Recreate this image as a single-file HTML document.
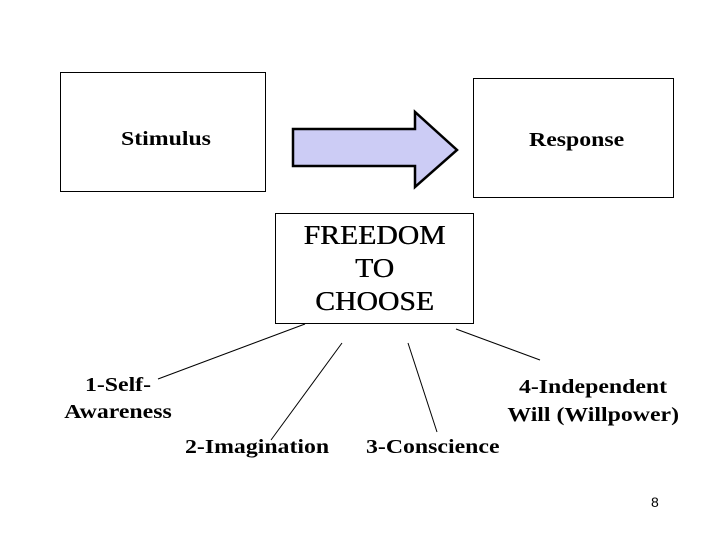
<!DOCTYPE html>
<html><head><style>
body{margin:0;width:720px;height:540px;background:#fff;position:relative;overflow:hidden;font-family:"Liberation Serif",serif;}
.b{position:absolute;border:1px solid #000;background:#fff;box-sizing:border-box;}
.t{position:absolute;font-weight:bold;font-size:20px;white-space:nowrap;transform:scaleX(1.19);transform-origin:left center;}
</style></head><body>
<div class="b" style="left:60px;top:72px;width:206px;height:120px"></div>
<div class="b" style="left:473px;top:78px;width:201px;height:120px"></div>
<div class="b" style="left:275px;top:213px;width:199px;height:111px"></div>
<svg style="position:absolute;left:0;top:0" width="720" height="540">
<polygon points="293,129 415,129 415,112 457,150 415,187 415,166 293,166" fill="#ccccf5" stroke="#000" stroke-width="2.5" stroke-linejoin="miter"/>
<g stroke="#000" stroke-width="1">
<line x1="305" y1="324" x2="158" y2="379"/>
<line x1="342" y1="343" x2="271" y2="440"/>
<line x1="408" y1="343" x2="437" y2="432"/>
<line x1="456" y1="329" x2="540" y2="360"/>
</g>
</svg>
<div class="t" style="left:121px;top:128px">Stimulus</div>
<div class="t" style="left:529px;top:129px">Response</div>
<div class="t" style="left:275px;top:219px;width:199px;text-align:center;font-size:27px;line-height:33px;font-weight:normal;transform:scaleX(1.1);transform-origin:center;text-shadow:0.4px 0 0 #000">FREEDOM<br>TO<br>CHOOSE</div>
<div class="t" style="left:55px;top:372px;width:126px;text-align:center;line-height:27px;transform-origin:center">1-Self-<br>Awareness</div>
<div class="t" style="left:185px;top:436px">2-Imagination</div>
<div class="t" style="left:366px;top:436px">3-Conscience</div>
<div class="t" style="left:480px;top:373px;width:199px;text-align:right;line-height:28px;transform-origin:right center">4-Independent&nbsp;&nbsp;<br>Will (Willpower)</div>
<div style="position:absolute;left:651px;top:494px;font-size:14px;font-family:'Liberation Sans',sans-serif">8</div>
</body></html>
